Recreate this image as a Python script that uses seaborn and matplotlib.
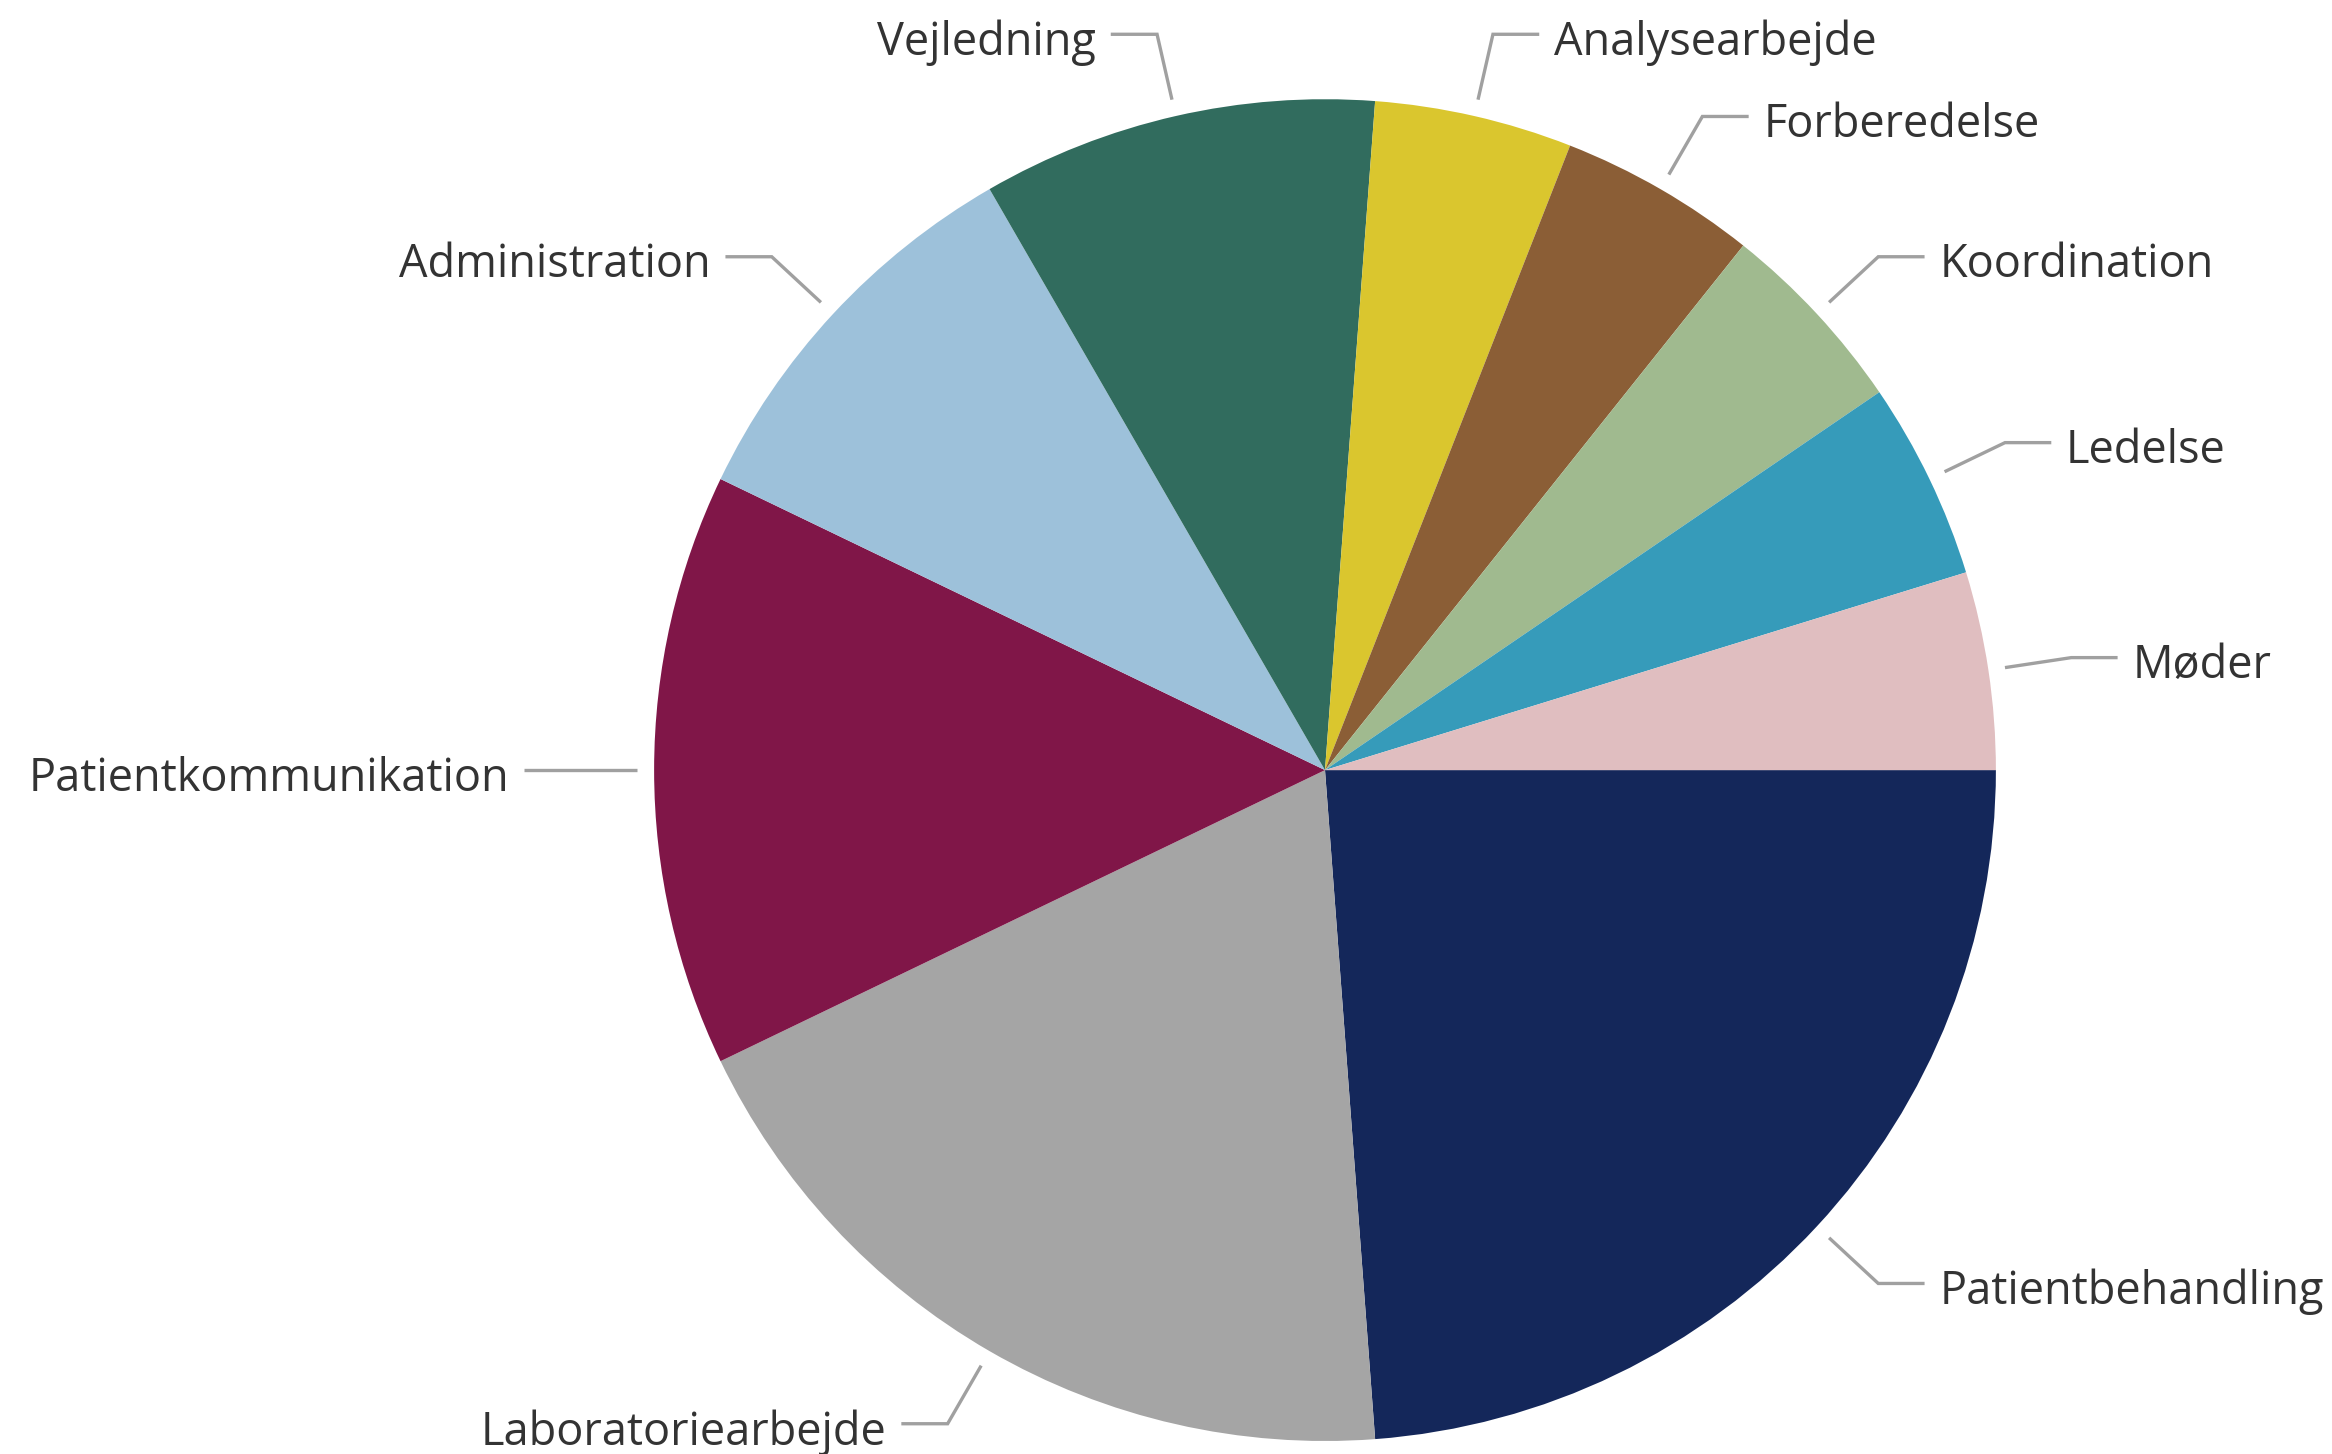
import numpy as np
import matplotlib
matplotlib.use("Agg")
import matplotlib.pyplot as plt
import seaborn as sns

sns.set_theme(style="white")
plt.rcParams['font.family'] = ['Open Sans', 'DejaVu Sans']

# Time distribution across task categories
categories = ["Patientbehandling", "Laboratoriearbejde", "Patientkommunikation",
              "Administration", "Vejledning", "Analysearbejde", "Forberedelse",
              "Koordination", "Ledelse", "Møder"]
values = [25, 20, 15, 10, 10, 5, 5, 5, 5, 5]
colors = ["#14275A", "#A5A5A5", "#801648", "#9DC1DA", "#316C5E",
          "#DAC62E", "#8B5E36", "#A0BA8F", "#369BBA", "#E0BEC0"]

fig = plt.figure(figsize=(23.32, 14.54), dpi=100)
ax = fig.add_axes([0, 0, 1, 1])

wedges, _ = ax.pie(values, colors=colors, startangle=0, counterclock=False,
                   radius=1.0, wedgeprops=dict(linewidth=0))

ax.set_xlim(-1.975, 1.501)
ax.set_ylim(-1.019, 1.1475)
ax.set_aspect('equal')
ax.axis('off')

line_col = "#A0A0A0"
for w, name in zip(wedges, categories):
    mid = np.deg2rad((w.theta1 + w.theta2) / 2.0)
    c, s = np.cos(mid), np.sin(mid)
    x0, y0 = 1.025 * c, 1.025 * s
    x1, y1 = 1.125 * c, 1.125 * s
    side = 1 if c >= 0 else -1
    x2 = x1 + side * 0.069
    ax.plot([x0, x1, x2], [y0, y1, y1], color=line_col, lw=2.4,
            solid_capstyle='butt', solid_joinstyle='miter')
    ax.text(x2 + side * 0.022, y1 - 0.013, name,
            ha='left' if side > 0 else 'right',
            va='center', fontsize=32.5, color="#333333")

fig.savefig("out.png", dpi=100, facecolor="white")
